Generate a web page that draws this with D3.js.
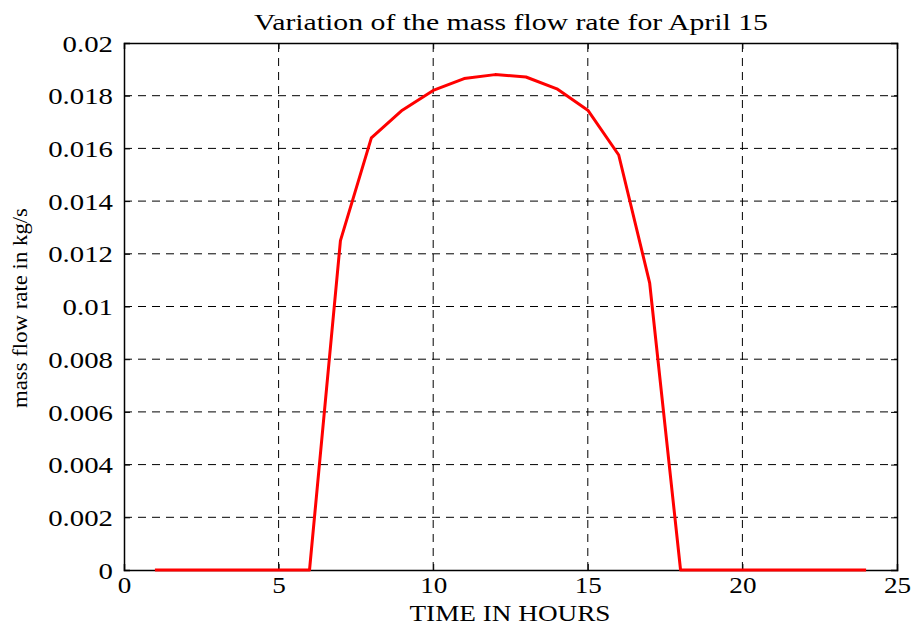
<html>
<head>
<style>
  body { margin: 0; background: #fff; }
  text { font-family: "Liberation Serif", "Times New Roman", serif; fill: #000; }
</style>
</head>
<body>
<script src="https://d3js.org/d3.v7.min.js"></script>
<script>
// data
var hours = [1, 2, 3, 4, 5, 6, 7, 8, 9, 10, 11, 12, 13, 14, 15, 16, 17, 18, 19, 20, 21, 22, 23, 24]
var massFlow = [0, 0, 0, 0, 0, 0, 0.0125, 0.0164, 0.01745, 0.0182, 0.01865, 0.0188, 0.01871, 0.01826, 0.01745, 0.01575, 0.0109, 0, 0, 0, 0, 0, 0, 0]
var xTicks = [0, 5, 10, 15, 20, 25]
var yTicks = [0, 0.002, 0.004, 0.006, 0.008, 0.01, 0.012, 0.014, 0.016, 0.018, 0.02]

var width = 912
var height = 628
var margin = {left: 124, right: 15, top: 43, bottom: 58}

var svg = d3.select('body')
    .append('svg')
    .attr('width', width)
    .attr('height', height)

var x = d3.scaleLinear().domain([0, 25]).range([margin.left, width - margin.right])
var y = d3.scaleLinear().domain([0, 0.02]).range([height - margin.bottom, margin.top])

// grid
svg.append('g').selectAll('line')
    .data(xTicks.slice(1, -1))
    .enter().append('line')
    .attr('x1', function(d){ return x(d) }).attr('x2', function(d){ return x(d) })
    .attr('y1', y(0)).attr('y2', y(0.02))
    .attr('stroke', '#000').attr('stroke-width', 1).attr('stroke-dasharray', '8,6')
svg.append('g').selectAll('line')
    .data(yTicks.slice(1, -1))
    .enter().append('line')
    .attr('y1', function(d){ return y(d) }).attr('y2', function(d){ return y(d) })
    .attr('x1', x(0)).attr('x2', x(25))
    .attr('stroke', '#000').attr('stroke-width', 1).attr('stroke-dasharray', '8,6')

// axes, ticks point inward like matlab
var fmt = function(d){ return d === 0 ? '0' : String(+d.toFixed(3)) }
var xAxis = svg.append('g')
    .attr('transform', 'translate(0,' + y(0) + ')')
    .call(d3.axisBottom(x).tickValues(xTicks).tickSize(-6).tickFormat(d3.format('d')))
var yAxis = svg.append('g')
    .attr('transform', 'translate(' + x(0) + ',0)')
    .call(d3.axisLeft(y).tickValues(yTicks).tickSize(-6).tickFormat(fmt))
svg.append('g')
    .attr('transform', 'translate(0,' + y(0.02) + ')')
    .call(d3.axisTop(x).tickValues(xTicks).tickSize(-6).tickFormat(''))
svg.append('g')
    .attr('transform', 'translate(' + x(25) + ',0)')
    .call(d3.axisRight(y).tickValues(yTicks).tickSize(-6).tickFormat(''))

svg.selectAll('.domain').attr('stroke', '#000').attr('stroke-width', 1.5)
svg.selectAll('.tick line').attr('stroke', '#000')

// the labels in the picture look a little wide
xAxis.selectAll('text')
    .attr('font-size', 23).attr('font-family', 'Liberation Serif').attr('fill', '#000')
    .attr('y', 0).attr('dy', 0)
    .attr('transform', 'translate(0,23) scale(1.18,1)')
yAxis.selectAll('text')
    .attr('font-size', 24).attr('font-family', 'Liberation Serif').attr('fill', '#000')
    .attr('x', 0).attr('dy', '0.34em')
    .attr('transform', 'translate(-11,0) scale(1.2,1)')

// line
var line = d3.line()
    .x(function(d, i){ return x(hours[i]) })
    .y(function(d){ return y(d) })
svg.append('path')
    .datum(massFlow)
    .attr('d', line)
    .attr('fill', 'none')
    .attr('stroke', '#ff0000')
    .attr('stroke-width', 3)
    .attr('stroke-linejoin', 'round')

// titles
svg.append('text')
    .attr('x', 511).attr('y', 30)
    .attr('text-anchor', 'middle')
    .attr('font-size', 23)
    .attr('textLength', 514).attr('lengthAdjust', 'spacingAndGlyphs')
    .text('Variation of the mass flow rate for April 15')
svg.append('text')
    .attr('x', 510).attr('y', 621)
    .attr('text-anchor', 'middle')
    .attr('font-size', 23)
    .attr('textLength', 201).attr('lengthAdjust', 'spacingAndGlyphs')
    .text('TIME IN HOURS')
svg.append('text')
    .attr('transform', 'translate(27,308) rotate(-90)')
    .attr('text-anchor', 'middle')
    .attr('font-size', 21)
    .attr('textLength', 200).attr('lengthAdjust', 'spacingAndGlyphs')
    .text('mass flow rate in kg/s')
</script>
</body>
</html>
